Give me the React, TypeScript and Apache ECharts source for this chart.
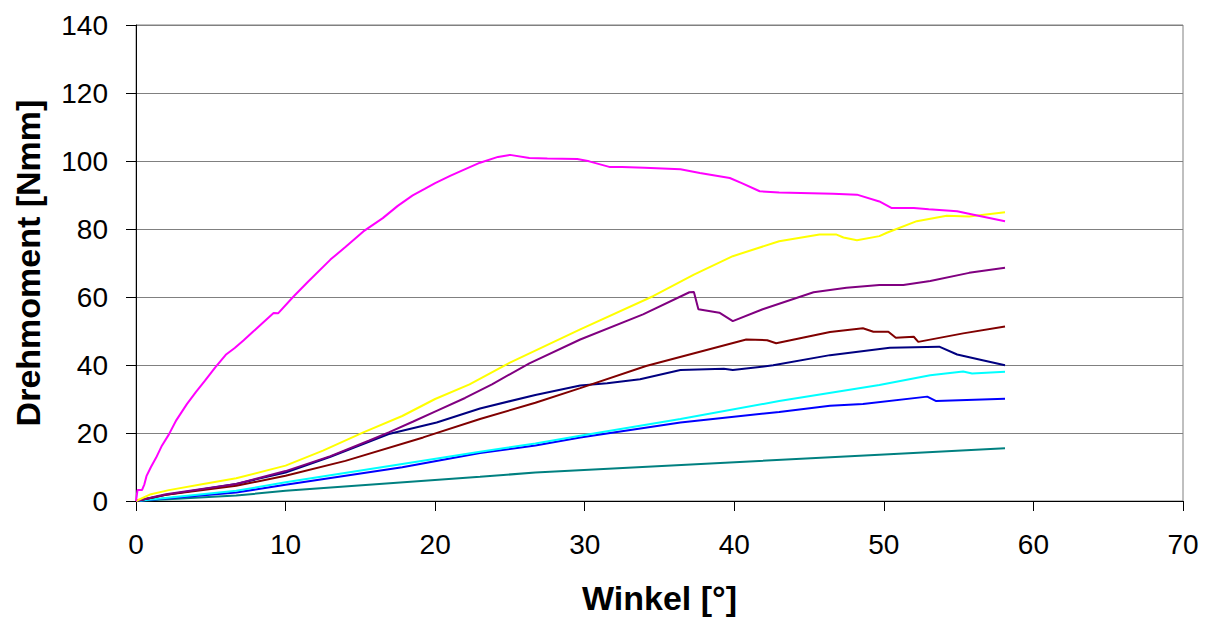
import React, { useEffect, useRef } from "react";
import * as echarts from "echarts";

// X axis / Y axis ticks
const xTicks = [0, 10, 20, 30, 40, 50, 60, 70];
const yTicks = [0, 20, 40, 60, 80, 100, 120, 140];

// Series: Magenta
const magentaX = [0, 0.1, 0.4, 0.56, 0.7, 1.0, 1.34, 1.7, 2.2, 2.7, 3.4, 4.0, 4.6, 5.3, 6.0, 6.6, 7.2, 7.8, 8.5, 9.2, 9.5, 10.5, 11.5, 13.0, 14.0, 15.2, 16.5, 17.5, 18.5, 19.3, 20.0, 21.0, 21.9, 23.0, 24.2, 25.0, 26.3, 27.5, 29.5, 30.3, 31.7, 32.5, 34.0, 36.4, 37.7, 39.7, 40.5, 41.7, 43.0, 46.6, 48.2, 49.7, 50.5, 52.0, 53.0, 54.9, 56.0, 58.1];
const magentaY = [0, 3.2, 3.2, 4.9, 7.3, 10.0, 12.7, 16.0, 19.6, 23.8, 28.5, 32.0, 35.3, 39.3, 43.0, 45.0, 47.3, 49.7, 52.5, 55.3, 55.2, 60.0, 64.5, 71.0, 74.7, 79.3, 83.2, 86.8, 89.9, 91.8, 93.5, 95.6, 97.4, 99.5, 101.2, 101.8, 100.9, 100.7, 100.6, 99.9, 98.2, 98.2, 98.0, 97.6, 96.5, 95.0, 93.5, 91.1, 90.7, 90.4, 90.1, 88.1, 86.2, 86.2, 85.8, 85.2, 84.2, 82.3];

// Series: Yellow
const yellowX = [0, 1.0, 2.2, 4.5, 6.7, 10.0, 12.5, 15.2, 17.8, 20.0, 22.3, 25.0, 29.7, 34.6, 37.3, 39.9, 43.0, 45.7, 46.8, 47.3, 48.2, 49.7, 50.2, 52.2, 54.2, 55.7, 58.1];
const yellowY = [0, 2.0, 3.2, 5.0, 6.7, 10.4, 14.8, 20.2, 25.0, 30.0, 34.3, 40.7, 50.5, 60.3, 66.6, 72.0, 76.4, 78.4, 78.4, 77.5, 76.7, 77.9, 78.9, 82.3, 83.9, 83.7, 84.9];

// Series: Purple
const purpleX = [0, 2.0, 6.7, 10.0, 13.0, 15.6, 16.9, 18.5, 20.1, 22.0, 23.8, 26.3, 29.7, 33.9, 37.0, 37.3, 37.6, 39.0, 39.9, 41.9, 45.3, 47.5, 49.7, 51.3, 53.1, 55.7, 58.1];
const purpleY = [0, 2.0, 5.0, 8.8, 13.2, 17.8, 20.2, 23.3, 26.5, 30.3, 34.3, 40.5, 47.5, 54.9, 61.4, 61.5, 56.4, 55.4, 52.9, 56.4, 61.4, 62.7, 63.5, 63.5, 64.7, 67.1, 68.6];

// Series: Maroon
const maroonX = [0, 2.0, 6.7, 10.0, 14.0, 19.2, 23.0, 26.7, 29.7, 34.1, 40.8, 42.2, 42.8, 46.4, 48.6, 49.3, 50.3, 50.8, 52.0, 52.3, 55.3, 58.1];
const maroonY = [0, 1.8, 4.5, 7.4, 11.8, 18.7, 24.1, 28.9, 33.2, 39.7, 47.5, 47.3, 46.4, 49.7, 50.8, 49.8, 49.8, 48.0, 48.3, 46.8, 49.3, 51.3];

// Series: Navy
const navyX = [0, 2.0, 6.7, 10.0, 13.0, 16.9, 20.1, 23.0, 26.7, 29.7, 31.5, 33.7, 36.4, 39.3, 39.9, 42.6, 46.4, 50.4, 53.7, 54.9, 56.6, 58.1];
const navyY = [0, 1.8, 5.0, 8.4, 13.0, 19.7, 23.1, 27.2, 31.2, 34.0, 34.6, 35.8, 38.5, 38.9, 38.5, 39.9, 42.9, 45.1, 45.4, 43.1, 41.4, 39.9];

// Series: Cyan
const cyanX = [0, 6.7, 10.0, 17.8, 23.0, 26.7, 29.7, 36.4, 43.0, 49.7, 53.1, 55.3, 55.9, 58.1];
const cyanY = [0, 3.0, 5.5, 10.9, 14.5, 16.9, 19.2, 24.1, 29.4, 34.1, 37.0, 38.1, 37.5, 38.0];

// Series: Blue
const blueX = [0, 6.7, 10.0, 17.8, 23.0, 26.7, 29.7, 36.4, 43.0, 46.4, 48.6, 52.9, 53.5, 58.1];
const blueY = [0, 2.5, 4.8, 9.9, 14.1, 16.3, 18.7, 23.1, 26.2, 28.0, 28.5, 30.7, 29.4, 30.1];

// Series: Teal
const tealX = [0, 6.7, 10.0, 23.0, 26.7, 49.7, 58.1];
const tealY = [0, 1.6, 3.0, 7.1, 8.4, 13.6, 15.5];

const zip = (xs: number[], ys: number[]) => xs.map((x, i) => [x, ys[i]]);

const seriesDefs = [
  { name: "teal", color: "#008080", xs: tealX, ys: tealY },
  { name: "blue", color: "#0000FF", xs: blueX, ys: blueY },
  { name: "cyan", color: "#00FFFF", xs: cyanX, ys: cyanY },
  { name: "navy", color: "#000080", xs: navyX, ys: navyY },
  { name: "maroon", color: "#800000", xs: maroonX, ys: maroonY },
  { name: "purple", color: "#800080", xs: purpleX, ys: purpleY },
  { name: "yellow", color: "#FFFF00", xs: yellowX, ys: yellowY },
  { name: "magenta", color: "#FF00FF", xs: magentaX, ys: magentaY },
];

const FONT = "'Liberation Sans', Arial, sans-serif";

export default function App() {
  const ref = useRef<HTMLDivElement>(null);
  useEffect(() => {
    if (!ref.current) return;
    const chart = echarts.init(ref.current, undefined, { renderer: "svg" });
    chart.setOption({
      animation: false,
      backgroundColor: "#ffffff",
      grid: {
        left: 136,
        right: 27,
        top: 25,
        bottom: 122,
        show: true,
        borderColor: "#808080",
        borderWidth: 1,
      },
      xAxis: {
        type: "value",
        min: xTicks[0],
        max: xTicks[xTicks.length - 1],
        interval: 10,
        name: "Winkel [°]",
        nameLocation: "middle",
        nameGap: 80,
        nameTextStyle: { fontSize: 34, fontWeight: "bold", color: "#000", fontFamily: FONT },
        axisLine: { show: true, lineStyle: { color: "#000", width: 1 } },
        axisTick: { show: true, inside: false, length: 10, lineStyle: { color: "#000" } },
        axisLabel: { fontSize: 28, color: "#000", margin: 29, fontFamily: FONT },
        splitLine: { show: false },
      },
      yAxis: {
        type: "value",
        min: yTicks[0],
        max: yTicks[yTicks.length - 1],
        interval: 20,
        name: "Drehmoment [Nmm]",
        nameLocation: "middle",
        nameGap: 91,
        nameTextStyle: { fontSize: 34, fontWeight: "bold", color: "#000", fontFamily: FONT },
        axisLine: { show: true, lineStyle: { color: "#000", width: 1 } },
        axisTick: { show: true, inside: false, length: 10, lineStyle: { color: "#000" } },
        axisLabel: { fontSize: 28, color: "#000", margin: 28, fontFamily: FONT },
        splitLine: { show: true, lineStyle: { color: "#808080", width: 1 } },
      },
      series: seriesDefs.map((s) => ({
        name: s.name,
        type: "line",
        data: zip(s.xs, s.ys),
        showSymbol: false,
        symbol: "none",
        lineStyle: { color: s.color, width: 2 },
        itemStyle: { color: s.color },
      })),
    });
    return () => chart.dispose();
  }, []);
  return (
    <div
      ref={ref}
      style={{ position: "fixed", left: 0, top: 0, width: 1210, height: 623, background: "#fff" }}
    />
  );
}
